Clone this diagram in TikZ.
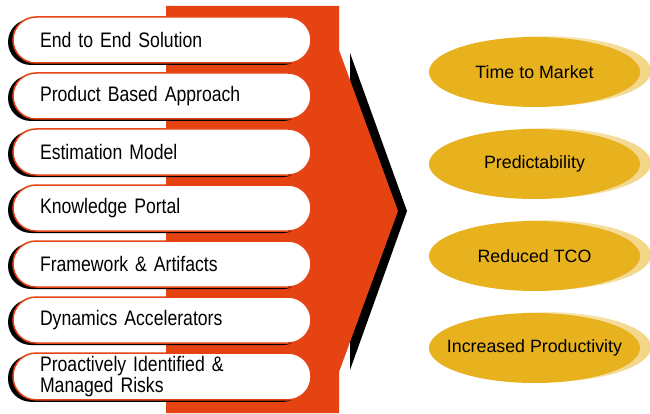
\documentclass[tikz,border=0pt]{standalone}
\usepackage{fontspec}
\setmainfont{Liberation Sans}
\newfontfamily\narrowsans[FakeStretch=0.84]{Liberation Sans}
\usepackage{tikz}
\usetikzlibrary{
  positioning,
  shapes.geometric,
  shadows
}
\definecolor{arroworange}{RGB}{229,68,18}
\definecolor{goalgold}{RGB}{231,178,30}
\providecommand{\pillfont}{\narrowsans\fontsize{21}{16.5}\selectfont\setlength{\spaceskip}{4.2pt}}
\tikzset{pill/.style={
  rectangle, rounded corners=23pt,
  draw=arroworange, line width=1.5pt,
  fill=white,
  minimum width=298pt, minimum height=46pt,
  text width=244pt, inner xsep=27pt, align=left,
  font=\pillfont,
  general shadow={fill=black, shadow xshift=-5pt, shadow yshift=-2pt}
}}
\tikzset{goal/.style={
  ellipse, fill=goalgold,
  minimum width=211pt, minimum height=70pt,
  inner ysep=0pt, inner xsep=-40pt,
  font=\fontsize{17.8}{20}\selectfont,
  general shadow={shadow xshift=11pt, shadow yshift=1pt, left color=white, right color=goalgold!55}
}}

\begin{document}
\begin{tikzpicture}[x=1pt,y=1pt]
    \useasboundingbox (0,0) rectangle (650,413);
    % big arrow and its shadow
    \fill [black] (350,360) -- (407,202) -- (350,43) -- cycle;
    \fill [arroworange] (166,0) -- (166,407) -- (339,407) -- (339,363) -- (398,202) -- (339,41) -- (339,0) -- cycle;
    % left column
    \node (solution) [pill] at (162,373) {End to End Solution};
    \node (product) [pill,below=8.5pt of solution] {Product Based Approach};
    \node (estimation) [pill,below=8.5pt of product] {Estimation Model};
    \node (portal) [pill,below=8.5pt of estimation] {Knowledge Portal};
    \node (framework) [pill,below=8.5pt of portal] {Framework \& Artifacts};
    \node (accelerators) [pill,below=8.5pt of framework] {Dynamics Accelerators};
    \node (risks) [pill,below=8.5pt of accelerators] {Proactively Identified \&\\Managed Risks};
    % right column
    \node (market) [goal] at (534.5,341) {Time to Market};
    \node (predictability) [goal,below=21.6pt of market] {Predictability};
    \node (tco) [goal,below=21.6pt of predictability] {Reduced TCO};
    \node (productivity) [goal,below=21.6pt of tco] {Increased Productivity};
  \end{tikzpicture}
\end{document}
